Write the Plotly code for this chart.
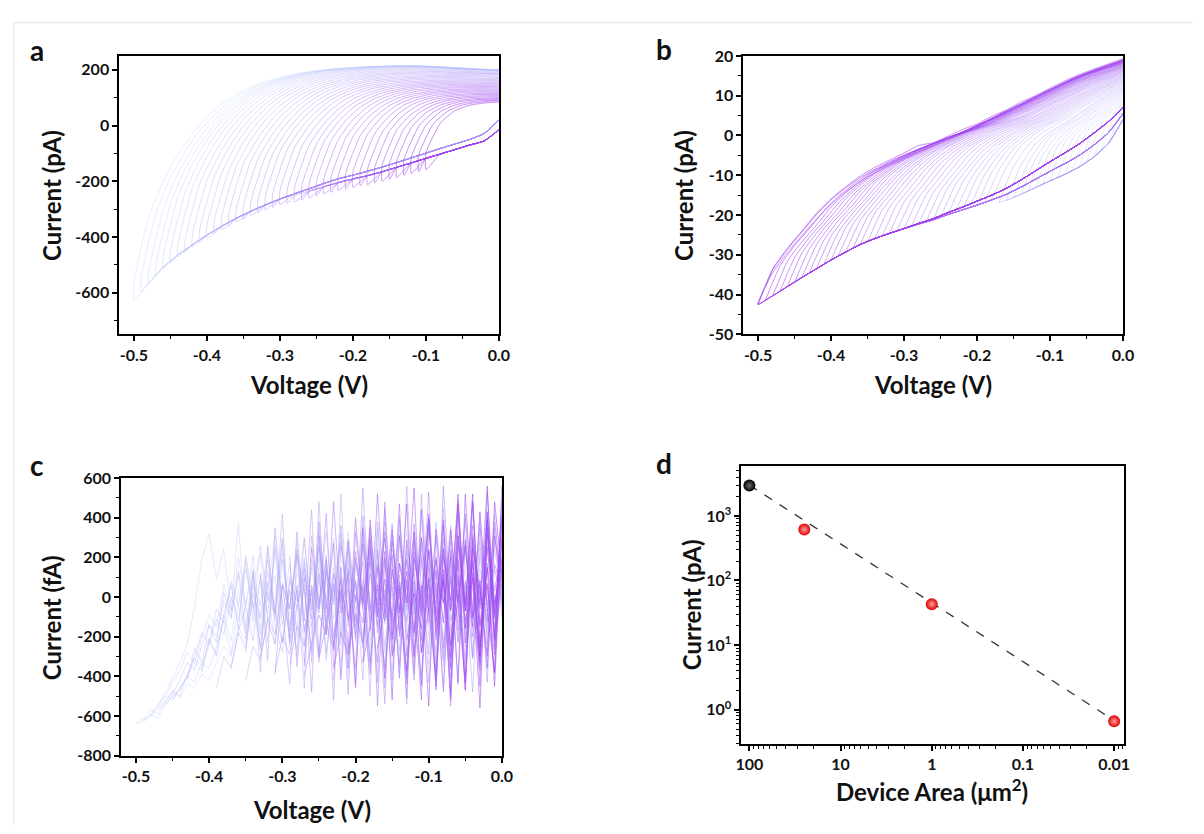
import plotly.graph_objects as go

W, H = 1204, 834
FONT = "Lato"

# ---------------- Panel a : cyclic sweeps (pA) ----------------
A_V = [-0.50, -0.48, -0.46, -0.44, -0.42, -0.40, -0.38, -0.36, -0.34, -0.32, -0.30, -0.28, -0.26,
       -0.24, -0.22, -0.20, -0.18, -0.16, -0.14, -0.12, -0.10, -0.08, -0.06, -0.04, -0.02, 0.00]
A_VO = [-0.49, -0.47, -0.45, -0.43, -0.41, -0.39, -0.37, -0.35, -0.33, -0.31, -0.29, -0.27, -0.25,
        -0.23, -0.21, -0.19, -0.17, -0.15, -0.13, -0.11, -0.09, -0.07, -0.05, -0.03, -0.01, 0.00]
A_LOW_EARLY = [-628, -565, -508, -465, -428, -393, -362, -333, -308, -285, -264, -245, -227,
               -208, -191, -178, -164, -149, -133, -116, -99, -82, -66, -50, -28, 20]
A_LOW_LATE = [-628, -565, -508, -465, -428, -393, -362, -333, -308, -285, -268, -252, -236,
              -220, -205, -192, -180, -166, -150, -134, -118, -102, -86, -70, -55, -15]
A_BOTTOM = [-628, -567, -512, -471, -436, -403, -374, -347, -324, -303, -284, -274, -260, -246,
            -233, -222, -212, -200, -186, -172, -158]
A_BOTTOM_ODD = [-598, -540, -492, -454, -420, -389, -361, -336, -314, -294, -279, -267, -253, -240,
                -228, -217, -206, -193, -179, -165]
A_UPPER = [
    [-560, -330, -200, -105, -30, 30, 78, 112, 138, 158, 173, 185, 194, 200, 205, 208, 211, 212, 213, 213, 211, 209, 206, 203, 200, 195],
    [-526, -304, -174, -82, -8, 44, 92, 123, 147, 166, 179, 190, 198, 204, 207, 211, 213, 214, 214, 212, 209, 206, 203, 200, 198],
    [-470, -258, -138, -53, 16, 67, 108, 137, 158, 174, 186, 196, 202, 206, 209, 212, 214, 214, 213, 211, 208, 205, 202, 200],
    [-428, -223, -111, -28, 34, 83, 119, 146, 165, 179, 189, 197, 202, 206, 209, 211, 212, 211, 209, 206, 203, 201, 199],
    [-392, -197, -89, -10, 49, 94, 127, 152, 168, 180, 190, 196, 201, 204, 207, 208, 208, 206, 203, 200, 198, 196],
    [-358, -173, -68, 5, 61, 104, 133, 154, 169, 180, 188, 193, 197, 200, 202, 202, 200, 198, 195, 193, 191],
    [-328, -148, -51, 19, 71, 109, 136, 155, 168, 177, 184, 188, 191, 194, 195, 194, 192, 190, 188, 186],
    [-300, -128, -36, 30, 78, 114, 138, 155, 166, 174, 180, 184, 187, 188, 188, 187, 186, 185, 184],
    [-276, -110, -23, 40, 85, 117, 139, 153, 163, 170, 174, 177, 179, 180, 180, 179, 178, 177],
    [-254, -93, -10, 48, 90, 118, 137, 150, 159, 164, 168, 171, 172, 172, 171, 170, 169],
    [-234, -79, 0, 55, 94, 119, 136, 146, 154, 158, 161, 163, 164, 164, 163, 162],
    [-223, -71, 6, 59, 95, 118, 133, 142, 148, 152, 155, 156, 156, 155, 154],
    [-208, -60, 14, 64, 96, 117, 129, 138, 143, 146, 148, 148, 147, 146],
    [-193, -50, 21, 67, 97, 115, 126, 133, 137, 139, 140, 140, 139],
    [-179, -40, 27, 70, 97, 112, 121, 127, 130, 132, 132, 131],
    [-167, -31, 33, 73, 96, 109, 117, 121, 124, 124, 123],
    [-156, -24, 37, 74, 94, 105, 111, 114, 116, 115],
    [-143, -16, 41, 74, 91, 100, 105, 107, 107],
    [-128, -7, 46, 74, 88, 95, 98, 99],
    [-113, 1, 50, 74, 85, 90, 92],
    [-98, 10, 54, 73, 81, 85],
]
A_UPPER_ODD = [
    [-543, -317, -187, -94, -19, 37, 85, 118, 143, 162, 176, 188, 196, 202, 206, 210, 212, 213, 214, 213, 210, 208, 205, 202, 199, 197],
    [-498, -281, -156, -68, 4, 56, 100, 130, 153, 170, 183, 193, 200, 205, 208, 212, 214, 214, 214, 212, 209, 206, 203, 200, 199],
    [-449, -241, -125, -41, 25, 75, 114, 142, 162, 177, 188, 197, 202, 206, 209, 212, 213, 213, 211, 209, 206, 203, 201, 200],
    [-410, -210, -100, -19, 42, 89, 123, 149, 167, 180, 190, 197, 202, 205, 208, 210, 210, 209, 206, 203, 201, 199, 198],
    [-375, -185, -79, -3, 55, 99, 130, 153, 169, 180, 189, 195, 199, 202, 205, 205, 204, 202, 199, 197, 195, 194],
    [-343, -161, -60, 12, 66, 107, 135, 155, 169, 179, 186, 191, 194, 197, 199, 198, 196, 194, 192, 190, 189],
    [-314, -138, -44, 25, 75, 112, 137, 155, 167, 176, 182, 186, 189, 191, 192, 191, 189, 188, 186, 185],
    [-288, -119, -30, 35, 82, 116, 139, 154, 165, 172, 177, 181, 183, 184, 184, 183, 182, 181, 181],
    [-265, -102, -17, 44, 88, 118, 138, 152, 161, 167, 171, 174, 176, 176, 176, 175, 174, 173],
    [-244, -86, -5, 52, 92, 119, 137, 148, 157, 161, 165, 167, 168, 168, 167, 166, 166],
    [-229, -75, 3, 57, 95, 119, 135, 144, 151, 155, 158, 160, 160, 160, 159, 158],
    [-216, -66, 10, 62, 96, 118, 131, 140, 146, 149, 152, 152, 152, 151, 150],
    [-201, -55, 18, 66, 97, 116, 128, 136, 140, 143, 144, 144, 143, 143],
    [-186, -45, 24, 69, 97, 114, 124, 130, 134, 136, 136, 136, 135],
    [-173, -36, 30, 72, 97, 111, 119, 124, 127, 128, 128, 127],
    [-162, -28, 35, 74, 95, 107, 114, 118, 120, 120, 119],
    [-150, -20, 39, 74, 93, 103, 108, 111, 112, 111],
    [-136, -12, 44, 74, 90, 98, 102, 103, 103],
    [-121, -3, 48, 74, 87, 93, 95, 96],
    [-106, 6, 52, 74, 83, 88, 89],
]

# ---------------- Panel b : cyclic sweeps (pA) ----------------
B_V = A_V
B_VO = A_VO
B_LOW_PURPLE = [-42.5, -40.3, -38.0, -35.7, -33.5, -31.3, -29.3, -27.4, -25.9, -24.6, -23.4, -22.1, -20.9,
                -19.4, -18.0, -16.5, -15.0, -13.3, -11.2, -8.9, -6.6, -4.4, -2.1, 0.6, 3.5, 7.0]
B_LOW_MID = [-42.5, -40.3, -38.0, -35.7, -33.5, -31.3, -29.3, -27.4, -25.9, -24.6, -23.4, -22.3, -21.2,
             -19.9, -18.7, -17.5, -16.2, -14.8, -13.0, -11.0, -9.0, -7.1, -5.0, -2.4, 0.7, 5.5]
B_LOW_BLUE = [-42.5, -40.3, -38.0, -35.7, -33.5, -31.3, -29.3, -27.4, -25.9, -24.6, -23.4, -22.4, -21.5,
              -20.4, -19.4, -18.4, -17.4, -16.3, -14.8, -13.1, -11.4, -9.8, -7.9, -5.4, -2.0, 4.0]
B_UPPER = [
    [-2.0, 7.4],
    [-5.4, 3.8, 8.3],
    [-7.9, 1.7, 5.5, 9.2],
    [-9.8, -0.1, 3.5, 6.9, 10.0],
    [-11.4, -1.9, 2.2, 4.9, 8.2, 10.8],
    [-13.1, -3.8, 0.7, 3.4, 6.2, 9.2, 11.5],
    [-14.8, -5.9, -0.6, 2.2, 4.5, 7.3, 10.1, 12.2],
    [-16.3, -7.6, -2.1, 1.0, 3.2, 5.6, 8.3, 10.9, 12.8],
    [-16.2, -8.0, -2.7, 0.5, 2.8, 4.6, 7.0, 9.4, 11.7, 13.4],
    [-17.5, -9.3, -4.0, -0.6, 1.8, 3.6, 5.7, 8.0, 10.3, 12.4, 14.0],
    [-18.7, -10.6, -5.4, -1.7, 0.8, 2.8, 4.5, 6.6, 8.8, 11.0, 12.9, 14.5],
    [-19.9, -11.9, -6.7, -2.9, -0.3, 1.8, 3.5, 5.4, 7.4, 9.6, 11.7, 13.5, 15.0],
    [-21.2, -13.1, -8.4, -4.1, -1.2, 0.9, 2.7, 4.2, 6.2, 8.2, 10.3, 12.4, 14.1, 15.5],
    [-22.3, -14.4, -9.7, -5.2, -2.1, 0.0, 1.9, 3.4, 5.0, 7.0, 9.1, 11.1, 13.1, 14.6, 16.0],
    [-23.4, -15.6, -10.9, -6.4, -3.3, -1.0, 1.0, 2.6, 4.1, 5.9, 7.8, 9.7, 11.7, 13.6, 15.0, 16.4],
    [-24.6, -16.7, -12.2, -7.6, -4.4, -2.0, 0.0, 1.8, 3.2, 4.7, 6.6, 8.5, 10.4, 12.2, 14.1, 15.5, 16.8],
    [-25.9, -18.1, -13.4, -9.0, -5.6, -2.9, -1.0, 0.8, 2.4, 3.7, 5.5, 7.2, 9.1, 11.0, 12.8, 14.5, 15.9, 17.2],
    [-27.4, -19.5, -15.0, -10.4, -7.0, -4.2, -2.1, -0.3, 1.4, 2.7, 4.2, 6.0, 7.8, 9.6, 11.5, 13.3, 14.9, 16.2, 17.5],
    [-29.3, -21.3, -16.7, -12.3, -8.5, -5.7, -3.4, -1.6, 0.2, 1.7, 3.0, 4.7, 6.4, 8.2, 10.0, 11.9, 13.7, 15.2, 16.5, 17.8],
    [-31.3, -23.2, -18.5, -14.3, -10.2, -7.2, -4.8, -2.8, -1.1, 0.5, 1.8, 3.3, 5.0, 6.8, 8.6, 10.4, 12.2, 14.0, 15.5, 16.9, 18.1],
    [-33.5, -25.3, -20.4, -16.4, -12.0, -8.9, -6.2, -4.3, -2.5, -0.8, 0.7, 1.9, 3.5, 5.3, 7.1, 8.9, 10.7, 12.5, 14.3, 15.8, 17.0, 18.3],
    [-35.7, -27.5, -22.4, -18.4, -14.0, -10.8, -8.0, -5.8, -3.9, -2.2, -0.6, 0.7, 2.1, 3.9, 5.5, 7.4, 9.1, 11.0, 12.8, 14.5, 16.0, 17.2, 18.5],
    [-38.0, -29.6, -24.6, -20.4, -15.9, -12.5, -9.6, -7.3, -5.4, -3.6, -2.1, -0.5, 0.7, 2.3, 4.1, 5.8, 7.6, 9.4, 11.3, 13.1, 14.8, 16.1, 17.4, 18.7],
    [-40.3, -31.7, -26.7, -22.6, -18.0, -14.4, -11.5, -8.9, -7.0, -5.2, -3.5, -2.0, -0.6, 0.8, 2.5, 4.2, 6.0, 7.7, 9.6, 11.4, 13.2, 14.9, 16.3, 17.5, 18.8],
    [-42.5, -33.8, -28.7, -24.3, -19.9, -16.2, -13.2, -10.6, -8.5, -6.6, -4.9, -3.4, -2.0, -0.6, 0.9, 2.6, 4.4, 6.2, 8.0, 9.8, 11.6, 13.4, 15.0, 16.4, 17.7, 18.9],
]
B_UPPER_EXTRA = [
    [-42.0, -34.5, -29.5, -25.2, -21.0, -17.3, -14.2, -11.6, -9.4, -7.5, -5.7, -4.1, -2.6, -1.1, 0.5, 2.2, 4.0, 5.8, 7.7, 9.5, 11.3, 13.1, 14.8, 16.3, 17.7, 19.0],
    [-42.3, -33.5, -28.4, -24.0, -19.6, -15.9, -12.9, -10.2, -8.0, -6.2, -4.4, -2.5, -1.8, -0.2, 1.5, 2.9, 4.8, 6.4, 8.4, 10.0, 11.9, 13.7, 15.3, 16.7, 18.0, 19.3],
]
B_UPPER_ODD = [
    [-3.7, 5.6, 7.9],
    [-6.7, 2.8, 6.9, 8.8],
    [-8.9, 0.8, 4.5, 8.1, 9.6],
    [-10.6, -1.0, 2.9, 5.9, 9.1, 10.4],
    [-12.3, -2.9, 1.5, 4.2, 7.2, 10.0, 11.2],
    [-14.0, -4.9, 0.1, 2.8, 5.4, 8.3, 10.8, 11.9],
    [-15.6, -6.8, -1.4, 1.6, 3.9, 6.5, 9.2, 11.6, 12.5],
    [-16.8, -7.8, -2.4, 0.8, 3.0, 5.1, 7.7, 10.2, 12.3, 13.1],
    [-16.9, -8.7, -3.4, -0.1, 2.3, 4.1, 6.4, 8.7, 11.0, 12.9, 13.7],
    [-18.1, -10.0, -4.7, -1.2, 1.3, 3.2, 5.1, 7.3, 9.6, 11.7, 13.5, 14.3],
    [-19.3, -11.3, -6.1, -2.3, 0.3, 2.3, 4.0, 6.0, 8.1, 10.3, 12.3, 14.0, 14.8],
    [-20.6, -12.5, -7.6, -3.5, -0.8, 1.4, 3.1, 4.8, 6.8, 8.9, 11.0, 13.0, 14.6, 15.3],
    [-21.8, -13.8, -9.1, -4.7, -1.7, 0.5, 2.3, 3.8, 5.6, 7.6, 9.7, 11.8, 13.6, 15.1, 15.8],
    [-22.9, -15.0, -10.3, -5.8, -2.7, -0.5, 1.5, 3.0, 4.6, 6.5, 8.5, 10.4, 12.4, 14.1, 15.5, 16.2],
    [-24.0, -16.2, -11.6, -7.0, -3.9, -1.5, 0.5, 2.2, 3.7, 5.3, 7.2, 9.1, 11.1, 12.9, 14.6, 16.0, 16.6],
    [-25.3, -17.4, -12.8, -8.3, -5.0, -2.5, -0.5, 1.3, 2.8, 4.2, 6.1, 7.9, 9.8, 11.6, 13.5, 15.0, 16.4, 17.0],
    [-26.7, -18.8, -14.2, -9.7, -6.3, -3.6, -1.6, 0.3, 1.9, 3.2, 4.9, 6.6, 8.5, 10.3, 12.2, 13.9, 15.4, 16.7, 17.4],
    [-28.4, -20.4, -15.9, -11.4, -7.8, -5.0, -2.8, -1.0, 0.8, 2.2, 3.6, 5.4, 7.1, 8.9, 10.8, 12.6, 14.3, 15.7, 17.0, 17.7],
    [-30.3, -22.3, -17.6, -13.3, -9.4, -6.5, -4.1, -2.2, -0.5, 1.1, 2.4, 4.0, 5.7, 7.5, 9.3, 11.2, 13.0, 14.6, 16.0, 17.4, 18.0],
    [-32.4, -24.3, -19.5, -15.4, -11.1, -8.1, -5.5, -3.6, -1.8, -0.2, 1.3, 2.6, 4.3, 6.1, 7.9, 9.7, 11.5, 13.3, 14.9, 16.4, 17.6, 18.2],
    [-34.6, -26.4, -21.4, -17.4, -13.0, -9.9, -7.1, -5.1, -3.2, -1.5, 0.1, 1.3, 2.8, 4.6, 6.3, 8.2, 9.9, 11.8, 13.6, 15.2, 16.5, 17.8, 18.4],
    [-36.9, -28.6, -23.5, -19.4, -15.0, -11.7, -8.8, -6.6, -4.7, -2.9, -1.4, 0.1, 1.4, 3.1, 4.8, 6.6, 8.4, 10.2, 12.1, 13.8, 15.4, 16.7, 18.0, 18.6],
    [-39.2, -30.7, -25.7, -21.5, -17.0, -13.5, -10.6, -8.1, -6.2, -4.4, -2.8, -1.3, 0.1, 1.6, 3.3, 5.0, 6.8, 8.6, 10.5, 12.3, 14.0, 15.5, 16.9, 18.1, 18.8],
    [-41.4, -32.8, -27.7, -23.5, -19.0, -15.3, -12.4, -9.8, -7.8, -5.9, -4.2, -2.7, -1.3, 0.1, 1.7, 3.4, 5.2, 7.0, 8.8, 10.6, 12.4, 14.2, 15.7, 17.0, 18.3, 18.9],
]

# ---------------- Panel c : noisy sweeps (fA) ----------------
C_V = [-0.50, -0.49, -0.48, -0.47, -0.46, -0.45, -0.44, -0.43, -0.42, -0.41, -0.40, -0.39, -0.38,
       -0.37, -0.36, -0.35, -0.34, -0.33, -0.32, -0.31, -0.30, -0.29, -0.28, -0.27, -0.26, -0.25,
       -0.24, -0.23, -0.22, -0.21, -0.20, -0.19, -0.18, -0.17, -0.16, -0.15, -0.14, -0.13, -0.12,
       -0.11, -0.10, -0.09, -0.08, -0.07, -0.06, -0.05, -0.04, -0.03, -0.02, -0.01, 0.00]
C_TRACES = [
    [-640, -625, -590, -545, -500, -520, -455, -400, -330, -370, -210, -290, -90, -220, 40, -160, 130, -270, 20, -110,
     220, -240, -30, 170, -320, 90, -130, 300, -60, -390, 150, 10, -260, 340, -110, 60, -350, 200, -20, -190,
     270, -80, 120, -310, 50, 230, -160, -10, 320, -100, 110],
    [-635, -615, -570, -590, -520, -480, -505, -440, -460, -390, -420, -330, -250, -300, -150, -230, -20, -170, 80, -120,
     190, -60, -260, 110, -30, 250, -190, 40, -110, 280, -230, 70, -340, 160, -50, 210, -140, 330, -80, 30,
     -260, 180, -30, 240, -170, 90, -310, 140, -20, 270, -60],
    [-620, -600, -545, -480, -410, -330, -240, -50, 190, 320, 90, 240, -70, 370, -150, 60, 220, -120, -20, 290,
     -260, 40, 150, -190, 310, -40, 100, -330, 180, -90, 60, -220, 270, -130, 20, 340, -170, 90, -280, 150,
     -40, 220, -120, 30, -300, 190, -60, 260, -150, 70],
    [-630, -595, -610, -540, -500, -470, -400, -430, -330, -360, -250, -120, -290, -40, -180, 110, -100, 30, -230, 190,
     -60, 280, -170, 50, -290, 140, -20, 360, -130, 80, -250, 200, -90, 20, -370, 170, 60, -160, 290, -40,
     130, -240, 80, -100, 310, -60, 190, -280, 20, 160],
    [-600, -560, -500, -430, -370, -280, -330, -200, -90, -150, 60, -70, 200, -40, 120, -260, 30, 310, -100, 170,
     -210, 60, -40, 250, -320, 110, -150, 190, -30, 360, -120, 70, -280, 140, -50, 230, -190, 80, -340, 210,
     -20, 130, -230, 290, -90, 40, -170, 240, -10],
    [-570, -530, -470, -500, -390, -310, -350, -240, -110, -190, 0, -120, 140, -60, 90, -230, 260, -30, -170, 120,
     40, -290, 200, -80, 150, -200, 330, -60, 60, -360, 170, -20, 240, -150, 90, -270, 190, 10, -120, 300,
     -200, 80, -40, 230, -130, 160, -250, 60],
    [-550, -490, -420, -330, -370, -240, -140, -200, -20, -110, 120, -50, 210, -190, 70, -90, 270, -140, 30, -240,
     150, -60, 330, -110, 80, -300, 190, -30, 240, -180, 20, -260, 170, -70, 290, -120, 60, -330, 130, -10,
     220, -160, 100, -220, 280, -50, 140],
    [-520, -460, -400, -300, -180, -240, -60, -130, 80, -40, 180, -120, 260, -20, 110, -230, 40, -160, 290, -70,
     150, -310, 60, -10, 230, -190, 90, -80, 350, -140, 20, -270, 180, -60, 240, -200, 70, -350, 160, -30,
     260, -110, 50, -190, 300, 90],
    [-420, -260, -330, -140, -230, 20, -100, 130, -210, 60, -40, 250, -150, -280, 100, -60, 200, -330, 120, -10,
     280, -190, 40, -120, 330, -70, 170, -250, 80, -380, 190, -30, 260, -150, 50, -220, 310, -90, 140, -40,
     210, 30, -180, 120],
    [-380, -210, -300, -90, 60, -160, 210, -40, -250, 130, -80, 300, -170, 40, -330, 190, -20, 120, -260, 360,
     -110, 80, -200, 240, -60, -350, 170, 10, -140, 290, -30, 150, -280, 90, -70, 330, -190, 50, -120, 230,
     -40, 100],
    [-460, -300, -360, -170, -50, -220, 110, -90, 240, -140, 30, -300, 180, -60, 340, -130, 70, -240, 150, -20,
     270, -350, 60, 190, -110, 300, -210, 40, -90, 380, -160, 90, -270, 200, -40, 130, -320, 250, -100, 60],
    [-350, -180, -260, 20, -110, 190, -70, -230, 80, -20, 300, -150, 110, -280, 40, -60, 250, -190, 60, 360,
     -90, 170, -300, 20, 230, -120, -400, 140, -30, 290, -170, 70, -250, 320, -60, 150, -210, 40],
    [-420, -250, -320, -100, -190, 60, -60, 210, -170, 40, -300, 150, -20, 320, -130, 80, -230, 200, -50, -360,
     120, -80, 260, -180, 50, -290, 380, -40, 110, -220, 240, -110, 30, -150, 170, 10],
    [-280, 140, -380, 260, -90, 420, -230, 60, -460, 310, -40, 190, -350, 520, -150, 90, -420, 240, -20, 380,
     -280, 110, -540, 330, -80, 170, -380, 450, -120, 40, -330, 270, -60, 400, -200, 100],
    [-300, -120, -240, 70, -60, 240, -180, 20, -330, 130, -40, 280, -100, 60, -260, 350, -150, 90, -420, 170,
     0, -200, 300, -80, 140, -300, 230, -20, -160, 110, 280, -70, 60, 150],
    [120, -320, 350, -60, -440, 220, 30, -270, 480, -140, 70, -400, 290, -20, 180, -500, 380, -100, 50, -340,
     560, -90, 210, -430, 120, -30, 360, -230, 60, -480, 250, -130, 420, -40],
    [-380, -200, -290, -50, 140, -110, 260, -30, -240, 90, -360, 200, -60, 330, -180, 40, -90, 390, -120, 150,
     -280, 60, -30, 250, -410, 180, -50, 100, -200, 320, -80, 40],
    [-390, 60, -210, 330, -120, 440, -290, 180, -520, 260, 10, -360, 410, -70, 150, -460, 340, -190, 90, -390,
     520, -30, 200, -320, 110, -440, 280, -90, 380, -240, 140, -20],
    [-340, -150, -250, 60, -80, 210, -200, 30, -360, 180, -20, 300, -140, 90, -290, 410, -60, 120, -450, 230,
     -100, 20, 280, -170, 80, -310, 350, -40, 160, 70],
    [210, -350, 100, -480, 380, -60, 270, -420, 140, -210, 550, -110, 40, -540, 310, -10, 190, -370, 440, -130,
     70, -460, 240, -30, 400, -300, 90, -430, 350, -100],
    [-400, -230, -90, -190, 120, -30, 280, -150, 50, -330, 220, -80, 370, -200, 60, -420, 190, -10, 310, -260,
     90, -130, 420, -60, -340, 170, 30, 260],
    [-350, 250, -60, 420, -270, 100, -490, 330, -20, 180, -430, 480, -140, 80, -380, 280, -70, 530, -220, 110,
     -550, 310, -30, 210, -350, 430, -110, 190],
    [-310, -140, -260, 40, -110, 230, -60, -390, 150, -20, 340, -170, 80, -300, 440, -90, 130, -480, 210, -30,
     290, -200, 60, -120, 380, 90],
    [310, -190, 480, -80, 120, -440, 270, -30, -330, 450, -160, 60, -510, 370, -100, 230, -400, 560, -60, 160,
     -470, 310, -20, 410, -260, 140],
    [-360, -180, -290, 10, -130, 250, -80, 330, -220, 60, -440, 200, -40, 390, -150, 110, -360, 470, -70, 160,
     -300, 250, -100, 140],
    [-420, 150, -260, 400, -40, 290, -550, 200, -120, 470, -300, 80, -440, 350, -10, 240, -500, 420, -150, 90,
     -370, 530, -70, 280],
    [-280, -90, -230, 120, -40, 300, -190, 40, -410, 230, -80, 420, -130, 90, -480, 280, -20, 360, -250, 150,
     -60, 210],
    [90, -460, 350, -170, 520, -60, 210, -410, 290, -20, -520, 390, -120, 140, -350, 490, -70, 250, -450, 320,
     -40, 180],
    [-330, -150, 60, -120, 280, -60, -370, 190, -10, 400, -200, 110, -520, 260, -40, 480, -150, 70, -380, 300],
    [-330, 390, -100, 230, -520, 310, -30, 550, -220, 100, -470, 360, -70, 190, -400, 480, -140, 60, -290, 400],
    [-260, -60, -210, 170, -30, 330, -280, 90, -450, 240, -70, 520, -160, 120, -330, 430, -40, 190],
    [240, -410, 140, -80, 470, -300, 60, -550, 340, -30, 200, -430, 520, -100, 80, -360, 310, 40],
    [-300, -100, 130, -180, 300, -60, -420, 210, -20, 470, -230, 100, -560, 350, -90, 380],
    [-220, 20, -160, 240, -80, 390, -310, 110, -470, 290, -40, 560, -200, 420],
    [-280, -60, 190, -130, 340, -20, -430, 250, 40, -300, 480, 120],
    [-180, 80, -240, 310, -70, 520, -260, 150, -450, 330],
    [-250, -20, 260, -150, 430, -60, -380, 560],
    [-120, 180, -300, 390, -220, 490],
]

# ---------------- Panel d : scaling with device area ----------------
D_AREA = [100, 25, 1, 0.01]
D_CURRENT = [2950, 615, 43, 0.66]
D_FIT_AREA = [100, 0.01]
D_FIT_CURRENT = [3000, 0.68]

# ---------------- styling helpers ----------------
C_START = (186, 208, 252)
C_END = (163, 62, 240)


def mix(t, alpha):
    r = round(C_START[0] + (C_END[0] - C_START[0]) * t)
    g = round(C_START[1] + (C_END[1] - C_START[1]) * t)
    b = round(C_START[2] + (C_END[2] - C_START[2]) * t)
    return f"rgba({r},{g},{b},{alpha:.2f})"


def px(xp):
    return xp / W


def py(yp):
    return 1 - yp / H


fig = go.Figure()

# panel a : interleave even and odd sweeps in recording order
a_items = []
for k, up in enumerate(A_UPPER):
    n = len(up)
    xs_up = A_V[-n:]
    low = A_LOW_EARLY if k < 11 else A_LOW_LATE
    x = xs_up[::-1] + [xs_up[0]] + A_V[-(n - 1):]
    y = up[::-1] + [A_BOTTOM[k]] + low[-(n - 1):]
    a_items.append((2 * k, x, y))
for j, up in enumerate(A_UPPER_ODD):
    n = len(up)
    xs_up = A_VO[-n:]
    low = A_LOW_EARLY if j < 10 else A_LOW_LATE
    x = xs_up[::-1] + [xs_up[0]] + A_V[-(n - 1):]
    y = up[::-1] + [A_BOTTOM_ODD[j]] + low[-(n - 1):]
    a_items.append((2 * j + 1, x, y))
a_items.sort(key=lambda it: it[0])
na = len(a_items)
for idx, x, y in a_items:
    t = idx / (na - 1)
    fig.add_trace(go.Scatter(x=x, y=y, mode="lines", xaxis="x", yaxis="y",
                             line=dict(color=mix(t, 0.45 + 0.3 * t), width=0.8, shape="spline", smoothing=0.5),
                             hoverinfo="skip", showlegend=False))


def b_low(m):
    if m < 8:
        return B_LOW_BLUE
    if m < 16:
        return B_LOW_MID
    return B_LOW_PURPLE


b_items = []
for m, up in enumerate(B_UPPER):
    n = len(up)
    xs_up = B_V[-n:]
    x = xs_up[::-1] + xs_up
    y = up[::-1] + b_low(m)[-n:]
    b_items.append((2 * m, x, y))
for m, up in enumerate(B_UPPER_ODD):
    n = len(up)
    xs_up = B_VO[-n:]
    x = xs_up[::-1] + [xs_up[0]] + B_V[-(n - 1):]
    y = up[::-1] + [up[0]] + b_low(m)[-(n - 1):]
    b_items.append((2 * m + 1, x, y))
for e, up in enumerate(B_UPPER_EXTRA):
    n = len(up)
    xs_up = B_V[-n:]
    x = xs_up[::-1] + xs_up
    y = up[::-1] + B_LOW_PURPLE[-n:]
    b_items.append((49 + e, x, y))
b_items.sort(key=lambda it: it[0])
for idx, x, y in b_items:
    t = min(1.0, idx / 48)
    fig.add_trace(go.Scatter(x=x, y=y, mode="lines", xaxis="x2", yaxis="y2",
                             line=dict(color=mix(t, 0.45 + 0.3 * t), width=0.8, shape="spline", smoothing=0.5),
                             hoverinfo="skip", showlegend=False))

# panel c
nc = len(C_TRACES)
for j, vals in enumerate(C_TRACES):
    x = C_V[-len(vals):]
    t = j / (nc - 1)
    fig.add_trace(go.Scatter(x=x, y=vals, mode="lines", xaxis="x3", yaxis="y3",
                             line=dict(color=mix(t, 0.40 + 0.3 * t), width=0.9),
                             hoverinfo="skip", showlegend=False))

# panel d
fig.add_trace(go.Scatter(x=D_FIT_AREA, y=D_FIT_CURRENT, mode="lines", xaxis="x4", yaxis="y4",
                         line=dict(color="#333333", width=1.3, dash="dash"),
                         hoverinfo="skip", showlegend=False))
fig.add_trace(go.Scatter(x=D_AREA[:1], y=D_CURRENT[:1], mode="markers", xaxis="x4", yaxis="y4",
                         marker=dict(size=12, color="#000000", gradient=dict(type="radial", color="#6a6a6a"),
                                     line=dict(width=0)),
                         hoverinfo="skip", showlegend=False))
fig.add_trace(go.Scatter(x=D_AREA[1:], y=D_CURRENT[1:], mode="markers", xaxis="x4", yaxis="y4",
                         marker=dict(size=12, color="#e00000", gradient=dict(type="radial", color="#ffa0a0"),
                                     line=dict(width=0)),
                         hoverinfo="skip", showlegend=False))

TICKFONT = dict(family=FONT, size=16, color="#111111", weight="bold")


def lin_axis(domain, anchor, rng, tickvals, minorvals):
    return dict(domain=domain, anchor=anchor, range=rng, tickmode="array", tickvals=tickvals,
                ticktext=[(f"{v:.1f}" if isinstance(v, float) else str(v)) for v in tickvals],
                showline=True, mirror=True, linecolor="black", linewidth=2,
                ticks="outside", ticklen=5, tickwidth=1.5, tickcolor="black",
                showgrid=False, zeroline=False, tickfont=TICKFONT,
                minor=dict(tickmode="array", tickvals=minorvals, ticks="outside", ticklen=3,
                           tickwidth=1.2, tickcolor="black", showgrid=False))


XV = [-0.5, -0.4, -0.3, -0.2, -0.1, 0.0]
XM = [-0.45, -0.35, -0.25, -0.15, -0.05]

dom_a_x = [px(115), px(500)]
dom_b_x = [px(748), px(1133)]
dom_top_y = [py(332), py(47)]
dom_c_x = [px(117), px(503)]
dom_c_y = [py(763), py(479)]
dom_d_x = [px(746), px(1134)]
dom_d_y = [py(751), py(467)]

xa = lin_axis(dom_a_x, "y", [-0.52, 0.0], XV, XM)
ya = lin_axis(dom_top_y, "x", [-750, 250], [-600, -400, -200, 0, 200], [-700, -500, -300, -100, 100])
xb = lin_axis(dom_b_x, "y2", [-0.52, 0.0], XV, XM)
yb = lin_axis(dom_top_y, "x2", [-50, 20], [-50, -40, -30, -20, -10, 0, 10, 20],
              [-45, -35, -25, -15, -5, 5, 15])
xc = lin_axis(dom_c_x, "y3", [-0.52, 0.0], XV, XM)
yc = lin_axis(dom_c_y, "x3", [-800, 600], [-800, -600, -400, -200, 0, 200, 400, 600],
              [-700, -500, -300, -100, 100, 300, 500])

LOGMINOR_X = [m * 10.0 ** e for e in range(-3, 2) for m in range(2, 10)]
LOGMINOR_Y = [m * 10.0 ** e for e in range(-1, 4) for m in range(2, 10)]
xd = dict(domain=dom_d_x, anchor="y4", type="log", range=[2.087, -2.108], tickmode="array",
          tickvals=[100, 10, 1, 0.1, 0.01], ticktext=["100", "10", "1", "0.1", "0.01"],
          showline=True, mirror=True, linecolor="black", linewidth=2, ticks="outside", ticklen=5,
          tickwidth=1.5, tickcolor="black", showgrid=False, zeroline=False, tickfont=TICKFONT,
          minor=dict(tickmode="array", tickvals=LOGMINOR_X, ticks="outside", ticklen=3, tickwidth=1.2,
                     tickcolor="black", showgrid=False))
yd = dict(domain=dom_d_y, anchor="x4", type="log", range=[-0.53, 3.767], tickmode="array",
          tickvals=[1, 10, 100, 1000],
          ticktext=["10<sup>0</sup>", "10<sup>1</sup>", "10<sup>2</sup>", "10<sup>3</sup>"],
          showline=True, mirror=True, linecolor="black", linewidth=2, ticks="outside", ticklen=5,
          tickwidth=1.5, tickcolor="black", showgrid=False, zeroline=False, tickfont=TICKFONT,
          minor=dict(tickmode="array", tickvals=LOGMINOR_Y, ticks="outside", ticklen=3, tickwidth=1.2,
                     tickcolor="black", showgrid=False))

TITLEFONT = dict(family=FONT, size=24, color="#111111", weight="bold")
LABELFONT = dict(family=FONT, size=28, color="#111111", weight="bold")


def ann(text, x, y, font, angle=0):
    return dict(text=text, x=px(x), y=py(y), xref="paper", yref="paper", showarrow=False,
                font=font, textangle=angle, xanchor="center", yanchor="middle")


annotations = [
    ann("a", 31, 41, LABELFONT), ann("b", 667, 40, LABELFONT),
    ann("c", 31, 466, LABELFONT), ann("d", 667, 464, LABELFONT),
    ann("Current (pA)", 46, 190, TITLEFONT, -90), ann("Voltage (V)", 307, 383, TITLEFONT),
    ann("Current (pA)", 687, 190, TITLEFONT, -90), ann("Voltage (V)", 940, 383, TITLEFONT),
    ann("Current (fA)", 46, 622, TITLEFONT, -90), ann("Voltage (V)", 310, 818, TITLEFONT),
    ann("Current (pA)", 695, 609, TITLEFONT, -90), ann("Device Area (μm<sup>2</sup>)", 939, 798, TITLEFONT),
]

shapes = [
    dict(type="line", xref="paper", yref="paper", x0=px(8), x1=1, y0=py(13), y1=py(13),
         line=dict(color="#e3e3e3", width=1)),
    dict(type="line", xref="paper", yref="paper", x0=px(8), x1=px(8), y0=0, y1=py(13),
         line=dict(color="#e3e3e3", width=1)),
]

fig.update_layout(
    width=W, height=H, margin=dict(l=0, r=0, t=0, b=0),
    paper_bgcolor="white", plot_bgcolor="white",
    xaxis=xa, yaxis=ya, xaxis2=xb, yaxis2=yb, xaxis3=xc, yaxis3=yc, xaxis4=xd, yaxis4=yd,
    annotations=annotations, shapes=shapes, showlegend=False,
)

fig.write_html("out.html", config={"displayModeBar": False},
               post_script="document.body.style.margin='0';document.body.style.overflow='hidden';")
